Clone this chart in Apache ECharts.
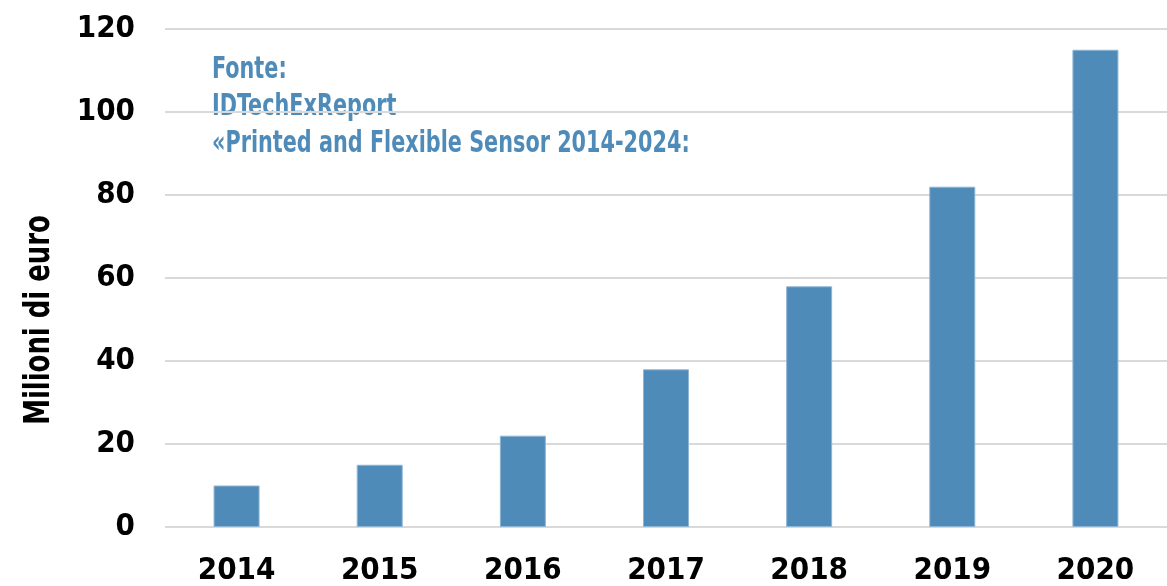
<!DOCTYPE html>
<html><head><meta charset="utf-8">
<script src="https://cdn.jsdelivr.net/npm/echarts@6/dist/echarts.min.js"></script>
<style>html,body{margin:0;padding:0;background:#fff}#c{width:1167px;height:586px}</style>
</head><body><div id="c"></div>
<script>
const categories = ['2014','2015','2016','2017','2018','2019','2020'];
const values = [10, 15, 22, 38, 58, 82, 115];
const yTicks = {min: 0, max: 120, interval: 20};
const axisTitle = 'Milioni di euro';
const sourceNote = 'Fonte:\nIDTechExReport\n«Printed and Flexible Sensor 2014-2024:';

const FONT = '"Liberation Sans Narrow", "DejaVu Sans Condensed", sans-serif';
const chart = echarts.init(document.getElementById('c'));
chart.setOption({
  animation: false,
  grid: {left: 165, right: -4, top: 29, bottom: 54, containLabel: false},
  xAxis: {
    type: 'category', data: categories,
    axisLine: {show: false}, axisTick: {show: false},
    axisLabel: {color: '#000', fontFamily: FONT, fontWeight: 'bold', fontSize: 31, margin: 28}
  },
  yAxis: {
    type: 'value', min: yTicks.min, max: yTicks.max, interval: yTicks.interval,
    axisLine: {show: false}, axisTick: {show: false},
    splitLine: {lineStyle: {color: '#d9d9d9', width: 2}},
    axisLabel: {color: '#000', fontFamily: FONT, fontWeight: 'bold', fontSize: 31, margin: 30}
  },
  graphic: [
    {type: 'text', x: 40, y: 320, rotation: Math.PI / 2, scaleX: 0.8,
     style: {text: axisTitle, fill: '#000', font: 'bold 36px ' + FONT, textAlign: 'center', textVerticalAlign: 'middle'}},
    {type: 'text', x: 212, y: 52, scaleX: 0.77,
     style: {text: sourceNote, fill: '#4f8bb9', font: 'bold 30px ' + FONT, lineHeight: 37, textVerticalAlign: 'top'}}
  ],
  series: [{
    type: 'bar', data: values, barWidth: 46,
    itemStyle: {color: '#4f8bb9', borderColor: '#8fb5d4', borderWidth: 1}
  }]
});
</script></body></html>
